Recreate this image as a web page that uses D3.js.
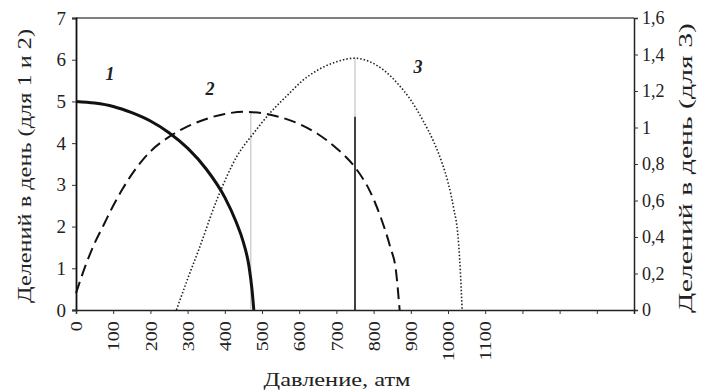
<!DOCTYPE html>
<html><head><meta charset="utf-8">
<script src="https://cdn.jsdelivr.net/npm/d3@7"></script>
<style>body{margin:0;background:#fff}svg{display:block}text{font-family:"Liberation Serif","DejaVu Serif",serif;fill:#222}</style>
</head><body><svg id="c" width="703" height="392"></svg>
<script>
const xTicks=[0,100,200,300,400,500,600,700,800,900,1000,1100,1200,1300,1400];
const xTickLabels=["0","100","200","300","400","500","600","700","800","900","1000","1100","","",""];
const yLeftTicks=[0,1,2,3,4,5,6,7];
const yRightTicks=[0,0.2,0.4,0.6,0.8,1,1.2,1.4,1.6];
const yRightLabels=["0","0,2","0,4","0,6","0,8","1","1,2","1,4","1,6"];
const pressure1=[0,50,100,150,200,250,300,350,400,430,450,465,473,478];
const divisions1=[5.0,4.96,4.88,4.73,4.53,4.25,3.88,3.38,2.7,2.12,1.62,1.05,0.5,0];
const pressure2=[0,25,50,75,100,125,150,175,200,250,300,350,400,450,500,550,600,650,700,750,790,820,845,860,870];
const divisions2=[0.4,1.05,1.6,2.05,2.5,2.9,3.25,3.55,3.8,4.15,4.4,4.58,4.7,4.75,4.72,4.62,4.46,4.22,3.88,3.42,2.85,2.2,1.5,0.95,0];
const pressure3=[270,300,330,378,432,478,524,570,605,650,700,750,790,830,865,900,935,962,985,1000,1015,1027,1033,1038];
const divisions3=[0,0.17,0.33,0.6,0.84,0.97,1.085,1.18,1.25,1.315,1.36,1.38,1.36,1.31,1.24,1.15,1.03,0.92,0.8,0.7,0.56,0.4,0.22,0];
const markerX=[470,750];
const markerTop=[4.74,4.63];
const peak3=1.38;

const svg=d3.select("#c");
const x=d3.scaleLinear().domain([0,1500]).range([76,634]);
const yL=d3.scaleLinear().domain([0,7]).range([310,18]);
const yR=d3.scaleLinear().domain([0,1.6]).range([310,18]);
const serif='"Liberation Serif","DejaVu Serif",serif';

svg.append("line").attr("x1",x(0)).attr("x2",x(1500)).attr("y1",yL(7)).attr("y2",yL(7)).attr("stroke","#555").attr("stroke-width",1.5);

const gl=svg.append("g").attr("transform",`translate(${x(0)},0)`)
 .call(d3.axisLeft(yL).tickValues(yLeftTicks).tickSize(4).tickPadding(6).tickFormat(d3.format("d")));
gl.select(".domain").attr("stroke","#111").attr("stroke-width",1.8);
gl.selectAll("text").style("font-size","19px").style("font-family",serif);
const gr=svg.append("g").attr("transform",`translate(${x(1500)},0)`)
 .call(d3.axisRight(yR).tickValues(yRightTicks).tickSize(4).tickPadding(4).tickFormat((d,i)=>yRightLabels[i]));
gr.select(".domain").attr("stroke","#222").attr("stroke-width",1.5);
gr.selectAll("text").style("font-size","18px").style("font-family",serif);
const gb=svg.append("g").attr("transform",`translate(0,${yL(0)})`)
 .call(d3.axisBottom(x).tickValues(xTicks).tickSize(4).tickPadding(4).tickFormat((d,i)=>xTickLabels[i]));
gb.select(".domain").attr("stroke","#222").attr("stroke-width",1.5);
gb.selectAll("text").style("font-size","16px").style("font-family",serif)
 .attr("text-anchor","end").attr("transform","rotate(-90) scale(1.25,1)").attr("x",-9).attr("y",0).attr("dy","0.35em");
svg.selectAll(".tick line").attr("stroke","#333");

svg.append("line").attr("x1",x(markerX[0])).attr("x2",x(markerX[0])).attr("y1",yL(0)).attr("y2",yL(markerTop[0])).attr("stroke","#bbb").attr("stroke-width",1);
svg.append("line").attr("x1",x(markerX[1])).attr("x2",x(markerX[1])).attr("y1",yL(markerTop[1])).attr("y2",yR(peak3)).attr("stroke","#bbb").attr("stroke-width",1);
svg.append("line").attr("x1",x(markerX[1])).attr("x2",x(markerX[1])).attr("y1",yL(0)).attr("y2",yL(markerTop[1])).attr("stroke","#111").attr("stroke-width",1.6);

const mk=(xs,ys,ysc)=>d3.line().x((d,i)=>x(xs[i])).y(d=>ysc(d)).curve(d3.curveMonotoneX)(ys);
svg.append("path").attr("d",mk(pressure1,divisions1,yL))
 .attr("fill","none").attr("stroke","#111").attr("stroke-width",3);
svg.append("path").attr("d",mk(pressure2,divisions2,yL))
 .attr("fill","none").attr("stroke","#111").attr("stroke-width",2).attr("stroke-dasharray","12,6");
svg.append("path").attr("d",mk(pressure3,divisions3,yR))
 .attr("fill","none").attr("stroke","#222").attr("stroke-width",1.6).attr("stroke-dasharray","1.5,2");

const lab=[["1",110,80],["2",210,95],["3",418,73]];
lab.forEach(l=>svg.append("text").attr("x",l[1]).attr("y",l[2]).attr("text-anchor","middle")
 .style("font-size","18px").style("font-style","italic").style("font-weight","bold").text(l[0]));

svg.append("text").attr("transform","translate(31,166) rotate(-90)").attr("text-anchor","middle").style("font-size","18px")
 .attr("textLength",274).attr("lengthAdjust","spacingAndGlyphs").text("Делений в день (для 1 и 2)");
svg.append("text").attr("transform","translate(692,168) rotate(-90)").attr("text-anchor","middle").style("font-size","18px")
 .attr("textLength",290).attr("lengthAdjust","spacingAndGlyphs").text("Делений в день (для 3)");
svg.append("text").attr("x",337).attr("y",386).attr("text-anchor","middle").style("font-size","19px")
 .attr("textLength",147).attr("lengthAdjust","spacingAndGlyphs").text("Давление,  атм");
</script></body></html>
